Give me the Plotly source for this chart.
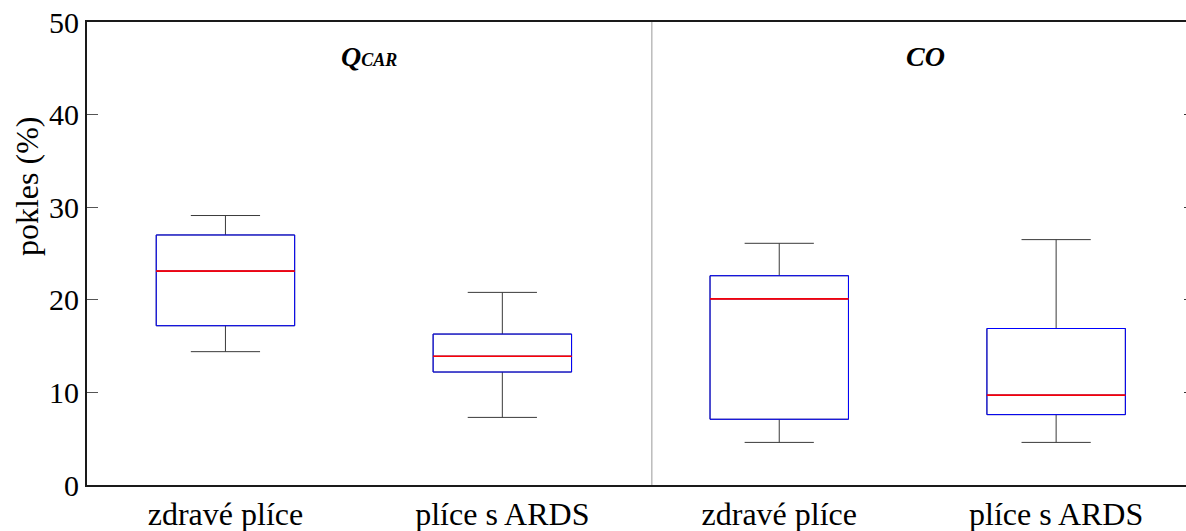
import plotly.graph_objects as go

# Box-plot summary statistics (pokles v %), one entry per group
positions = [1, 2, 3, 4]
group_labels = ["zdravé plíce", "plíce s ARDS", "zdravé plíce", "plíce s ARDS"]
lower_whisker = [14.4, 7.3, 4.6, 4.6]
q1 = [17.2, 12.2, 7.1, 7.6]
median = [23.1, 13.9, 20.1, 9.7]
q3 = [27.0, 16.3, 22.6, 16.9]
upper_whisker = [29.1, 20.8, 26.1, 26.5]

panel_titles = ["<b><i>Q<span style='font-size:18px'>CAR</span></i></b>", "<b><i>CO</i></b>"]
panel_title_x = [1.52, 3.53]
panel_split = 2.54

y_ticks = [0, 10, 20, 30, 40, 50]

BOX_W = 0.5
FONT = "Liberation Serif"

fig = go.Figure()

# whiskers and caps
fig.add_trace(go.Box(
    x=positions, lowerfence=lower_whisker, q1=q1, median=median, q3=q3,
    upperfence=upper_whisker, width=BOX_W, whiskerwidth=0.5,
    line=dict(color="#3a3a3a", width=1), fillcolor="white",
    boxpoints=False, showlegend=False, hoverinfo="skip",
))

# blue box outline (no whiskers)
fig.add_trace(go.Box(
    x=positions, lowerfence=q1, q1=q1, median=median, q3=q3,
    upperfence=q3, width=BOX_W, whiskerwidth=0,
    line=dict(color="#0000ff", width=1), fillcolor="rgba(0,0,0,0)",
    boxpoints=False, showlegend=False, hoverinfo="skip",
))

# red median: a flat box collapsed onto the median value
# (placed on the right-hand axis, which carries the mirrored ticks)
fig.add_trace(go.Box(
    x=positions, yaxis="y2", lowerfence=median, q1=median, median=median,
    q3=median, upperfence=median, width=BOX_W, whiskerwidth=0,
    line=dict(color="#ff0000", width=1), fillcolor="rgba(0,0,0,0)",
    boxpoints=False, showlegend=False, hoverinfo="skip",
))

# separator between the two panels
fig.add_shape(type="line", xref="x", yref="paper", x0=panel_split, x1=panel_split,
              y0=0, y1=1, line=dict(color="#9a9a9a", width=1), layer="above")

for t, x in zip(panel_titles, panel_title_x):
    fig.add_annotation(text=t, x=x, xref="x", y=0.925, yref="paper",
                       showarrow=False, yanchor="middle",
                       font=dict(family=FONT, size=28, color="black"))

# y-axis label
fig.add_annotation(text="pokles (%)", xref="paper", yref="paper", x=-0.054, y=0.645,
                   textangle=-90, showarrow=False, xanchor="center", yanchor="middle",
                   font=dict(family=FONT, size=32, color="black"))

fig.update_layout(
    width=1186, height=531,
    margin=dict(l=87, r=0, t=22, b=46),
    paper_bgcolor="white", plot_bgcolor="white",
    boxmode="overlay",
    font=dict(family=FONT, size=30, color="black"),
    xaxis=dict(
        range=[0.5, 4.469], tickvals=positions, ticktext=group_labels,
        ticks="", showgrid=False, zeroline=False,
        showline=True, linecolor="#1a1a1a", linewidth=2, mirror=True,
        tickfont=dict(family=FONT, size=32, color="black"),
    ),
    yaxis=dict(
        range=[0, 50], tickvals=y_ticks, ticks="inside", ticklen=11,
        tickcolor="#555555", tickwidth=1,
        showgrid=False, zeroline=False,
        showline=True, linecolor="#1a1a1a", linewidth=2,
        tickfont=dict(family=FONT, size=30, color="black"),
    ),
    yaxis2=dict(
        overlaying="y", side="right", anchor="x", range=[0, 50], tickvals=y_ticks,
        ticks="inside", ticklen=2, tickcolor="#333333", tickwidth=1,
        showticklabels=False, showgrid=False, zeroline=False, showline=False,
    ),
)

fig.write_html("out.html")
